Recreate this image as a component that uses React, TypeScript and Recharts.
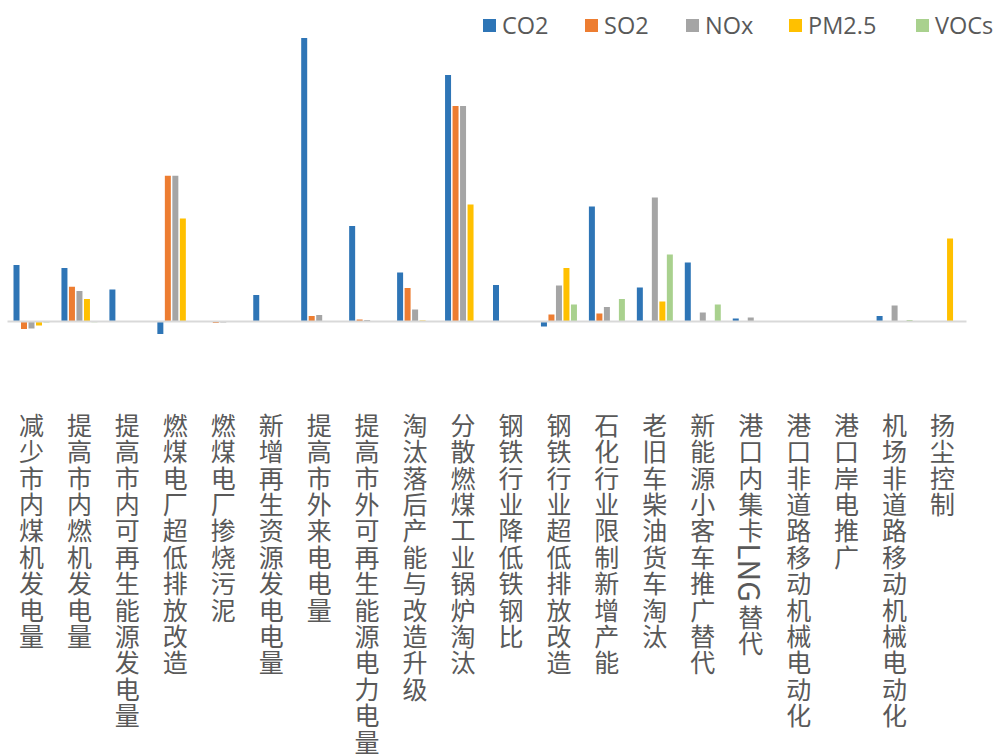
import { Bar, BarChart, ReferenceLine, XAxis, YAxis } from 'recharts';

const categories = [
    '减少市内煤机发电量',
    '提高市内燃机发电量',
    '提高市内可再生能源发电量',
    '燃煤电厂超低排放改造',
    '燃煤电厂掺烧污泥',
    '新增再生资源发电电量',
    '提高市外来电电量',
    '提高市外可再生能源电力电量',
    '淘汰落后产能与改造升级',
    '分散燃煤工业锅炉淘汰',
    '钢铁行业降低铁钢比',
    '钢铁行业超低排放改造',
    '石化行业限制新增产能',
    '老旧车柴油货车淘汰',
    '新能源小客车推广替代',
    '港口内集卡LNG替代',
    '港口非道路移动机械电动化',
    '港口岸电推广',
    '机场非道路移动机械电动化',
    '扬尘控制',
];

const co2 = [56.5, 53.5, 32, -12.5, 0, 26.5, 283.5, 95.5, 49, 246.5, 36.5, -5, 115, 34, 59, 3, 0, 0, 5.5, 0];
const so2 = [-7.5, 34.8, 0, 145.8, -1.5, 0, 5.5, 2, 33.5, 215.5, 0, 7, 8, 0, 0, 0, 0, 0, 0, 0];
const nox = [-7, 30.5, 0.5, 145.8, -1, 0.5, 6.5, 1.5, 12, 215.5, 0, 36, 14.5, 124, 9, 4, 0, 0, 16, 0];
const pm25 = [-4, 22.5, 0, 103, 0, 0, 0, 0, 1, 117, 0, 53.5, 0, 20, 0, 0, 0, 0, 0, 83];
const vocs = [-1, -0.8, 0, 0, 0, 0, 0, 0, 0, 0, 0, 17, 22.5, 67, 17, 0, 0, 0, 1.5, 0];

const series = [
    { key: 'CO2', values: co2, color: '#2E75B6' },
    { key: 'SO2', values: so2, color: '#ED7D31' },
    { key: 'NOx', values: nox, color: '#A5A5A5' },
    { key: 'PM2.5', values: pm25, color: '#FFC000' },
    { key: 'VOCs', values: vocs, color: '#A9D18E' },
];

// legend square x positions as in the original
const legendLeft = [483, 585, 686, 789, 916];

const data = categories.map((name, i) => {
    const row: Record<string, string | number> = { name };
    series.forEach((s) => {
        row[s.key] = s.values[i];
    });
    return row;
});

const FONT = '"Noto Sans CJK SC", "Noto Sans", sans-serif';
const PITCH = 26.4;

function VerticalTick(props: any) {
    const { x, y, payload } = props;
    const text: string = payload.value;
    const parts: { s: string; latin: boolean }[] = [];
    for (const ch of text) {
        const latin = /[A-Za-z0-9]/.test(ch);
        const last = parts[parts.length - 1];
        if (latin && last && last.latin) last.s += ch;
        else parts.push({ s: ch, latin });
    }
    let cy = y + 74;
    const nodes: any[] = [];
    parts.forEach((p, i) => {
        if (p.latin) {
            const len = p.s.length * 20;
            nodes.push(
                <text
                    key={i}
                    x={0}
                    y={0}
                    transform={`translate(${x},${cy + len / 2}) rotate(90)`}
                    textAnchor="middle"
                    dominantBaseline="central"
                    fontSize={30}
                    fontFamily={FONT}
                    fill="#595959"
                >
                    {p.s}
                </text>
            );
            cy += len;
        } else {
            nodes.push(
                <text
                    key={i}
                    x={x}
                    y={cy + PITCH / 2}
                    textAnchor="middle"
                    dominantBaseline="central"
                    fontSize={25}
                    fontFamily={FONT}
                    fill="#595959"
                >
                    {p.s}
                </text>
            );
            cy += PITCH;
        }
    });
    return <g>{nodes}</g>;
}

function LegendBox() {
    return (
        <>
            {series.map((s, i) => (
                <div
                    key={s.key}
                    style={{
                        position: 'absolute',
                        top: 10,
                        left: legendLeft[i],
                        height: 30,
                        display: 'flex',
                        alignItems: 'center',
                        fontFamily: '"Open Sans", sans-serif',
                        fontSize: 23.5,
                        color: '#595959',
                        whiteSpace: 'nowrap',
                    }}
                >
                    <span
                        style={{
                            display: 'inline-block',
                            width: 13,
                            height: 13,
                            background: s.color,
                            marginRight: 6,
                        }}
                    />
                    <span>{s.key}</span>
                </div>
            ))}
        </>
    );
}

export default function App() {
    return (
        <div
            style={{
                position: 'absolute',
                left: 0,
                top: 0,
                width: 1005,
                height: 756,
                background: '#fff',
                overflow: 'hidden',
            }}
        >
            <BarChart
                width={1005}
                height={756}
                data={data}
                margin={{ top: 36.5, right: 38.5, left: 7.5, bottom: 0 }}
                barSize={6}
                barGap={1.5}
            >
                <XAxis
                    dataKey="name"
                    interval={0}
                    axisLine={false}
                    tickLine={false}
                    tickSize={0}
                    tickMargin={0}
                    height={419.5}
                    tick={<VerticalTick />}
                />
                <YAxis hide domain={[-15, 285]} allowDataOverflow />
                {series.map((s) => (
                    <Bar
                        key={s.key}
                        dataKey={s.key}
                        fill={s.color}
                        isAnimationActive={false}
                    />
                ))}
                <ReferenceLine y={0} stroke="#D9D9D9" strokeWidth={2} />
            </BarChart>
            <LegendBox />
        </div>
    );
}
